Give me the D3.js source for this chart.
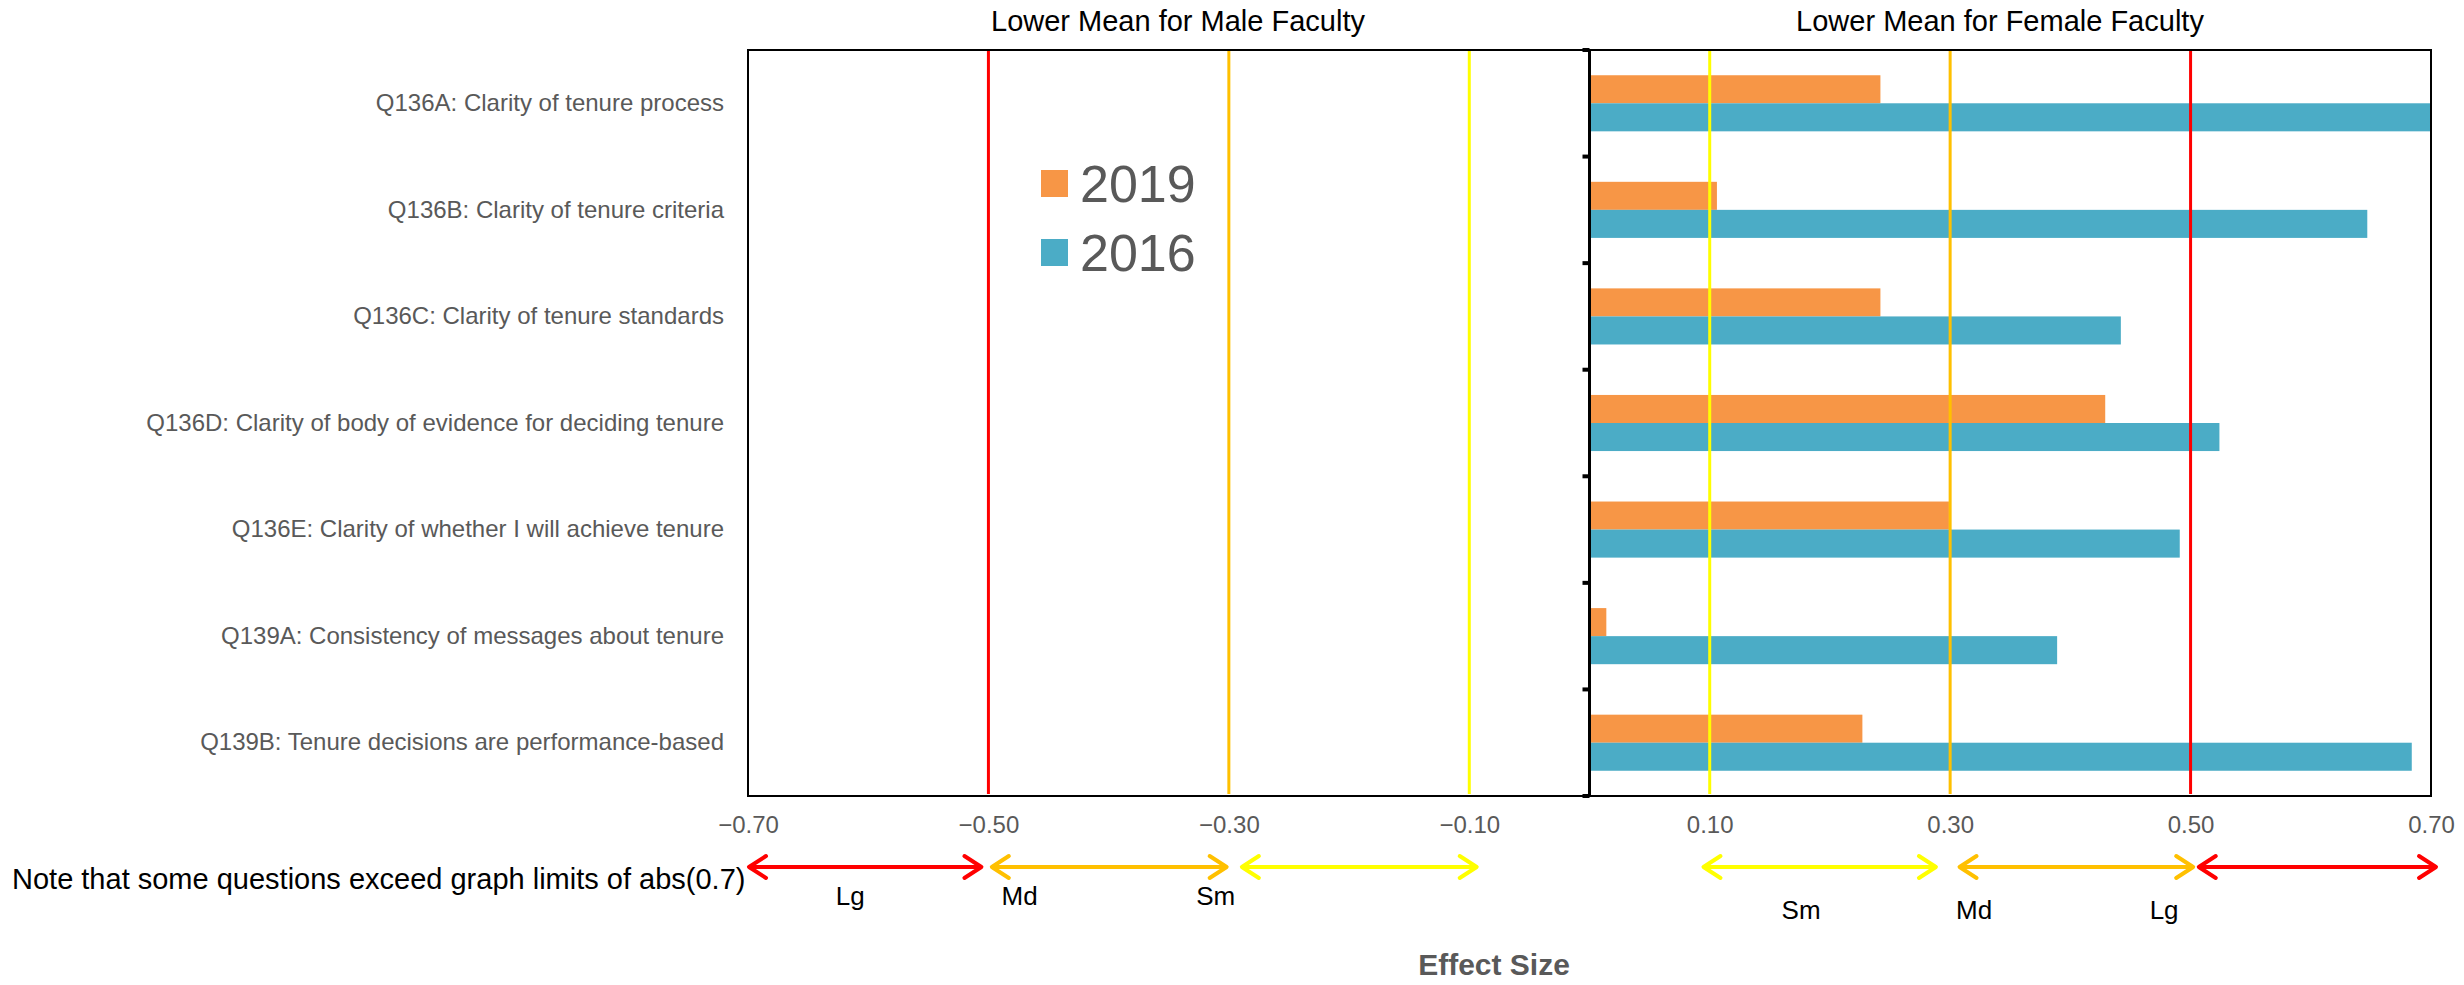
<!DOCTYPE html>
<html>
<head>
<meta charset="utf-8">
<script src="https://cdn.jsdelivr.net/npm/d3@7"></script>
<style>
  html, body { margin: 0; padding: 0; background: #fff; }
  svg { display: block; font-family: "Liberation Sans", Arial, sans-serif; }
</style>
</head>
<body>
<svg id="chart" width="2464" height="985"></svg>
<script>
// Survey items (top to bottom)
const categories = [
  "Q136A: Clarity of tenure process",
  "Q136B: Clarity of tenure criteria",
  "Q136C: Clarity of tenure standards",
  "Q136D: Clarity of body of evidence for deciding tenure",
  "Q136E: Clarity of whether I will achieve tenure",
  "Q139A: Consistency of messages about tenure",
  "Q139B: Tenure decisions are performance-based"
];
// Effect sizes per survey year
const values2019 = [0.242, 0.106, 0.242, 0.429, 0.299, 0.014, 0.227];
const values2016 = [0.73, 0.647, 0.442, 0.524, 0.491, 0.389, 0.684];
const seriesNames = ["2019", "2016"];
const seriesColors = ["#F79646", "#4BACC6"];

// Axis ticks and effect-size thresholds
const xTicks = [-0.7, -0.5, -0.3, -0.1, 0.1, 0.3, 0.5, 0.7];
const thresholds = [-0.5, -0.3, -0.1, 0.1, 0.3, 0.5];
const thresholdColors = ["#FF0000", "#FFC000", "#FFFF00", "#FFFF00", "#FFC000", "#FF0000"];

// Size bands shown under the axis (spans in effect-size units)
const bandArrows = [
  { from: -0.700, to: -0.505, color: "#FF0000" },
  { from: -0.498, to: -0.301, color: "#FFC000" },
  { from: -0.290, to: -0.093, color: "#FFFF00" },
  { from: 0.094, to: 0.289, color: "#FFFF00" },
  { from: 0.307, to: 0.503, color: "#FFC000" },
  { from: 0.506, to: 0.705, color: "#FF0000" }
];
const bandLabelsLeft = [
  { text: "Lg", at: -0.615 },
  { text: "Md", at: -0.474 },
  { text: "Sm", at: -0.311 }
];
const bandLabelsRight = [
  { text: "Sm", at: 0.176 },
  { text: "Md", at: 0.320 },
  { text: "Lg", at: 0.478 }
];

const svg = d3.select("#chart");
const margin = { left: 748, right: 33, top: 50, bottom: 189 };
const W = 2464, H = 985;
const plotL = margin.left, plotR = W - margin.right;
const plotT = margin.top, plotB = H - margin.bottom;

const x = d3.scaleLinear().domain([-0.7, 0.7]).range([plotL, plotR]);
const y = d3.scaleBand().domain(categories).range([plotT, plotB]).padding(0);
const ySub = d3.scaleBand().domain(seriesNames).range([0, y.bandwidth()])
  .paddingInner(0).paddingOuter(0.9);

const data = categories.map((c, i) => ({ cat: c, "2019": values2019[i], "2016": values2016[i] }));

svg.append("defs").append("clipPath").attr("id", "plotClip")
  .append("rect").attr("x", plotL).attr("y", plotT)
  .attr("width", plotR - plotL).attr("height", plotB - plotT);

// Bars
const barLayer = svg.append("g").attr("clip-path", "url(#plotClip)");
seriesNames.forEach((s, si) => {
  barLayer.selectAll(".bar-" + s).data(data).enter().append("rect")
    .attr("x", d => x(Math.min(0, d[s])))
    .attr("y", d => y(d.cat) + ySub(s))
    .attr("width", d => Math.abs(x(d[s]) - x(0)))
    .attr("height", ySub.bandwidth())
    .attr("fill", seriesColors[si]);
});

// Threshold lines
svg.append("g").selectAll("line").data(thresholds).enter().append("line")
  .attr("x1", d => x(d)).attr("x2", d => x(d))
  .attr("y1", plotT).attr("y2", plotB - 2)
  .attr("stroke", (d, i) => thresholdColors[i])
  .attr("stroke-width", 3);

// Plot frame
svg.append("rect").attr("x", plotL).attr("y", plotT)
  .attr("width", plotR - plotL).attr("height", plotB - plotT)
  .attr("fill", "none").attr("stroke", "#000").attr("stroke-width", 2);

// Zero axis with category-boundary ticks
svg.append("line").attr("x1", x(0)).attr("x2", x(0))
  .attr("y1", plotT).attr("y2", plotB)
  .attr("stroke", "#000").attr("stroke-width", 3);
const boundaries = categories.map(c => y(c)).concat([plotB]);
svg.append("g").selectAll("line").data(boundaries).enter().append("line")
  .attr("x1", x(0) - 7).attr("x2", x(0))
  .attr("y1", d => d).attr("y2", d => d)
  .attr("stroke", "#000").attr("stroke-width", 4);

// Category labels
const yAxis = d3.axisLeft(y).tickSize(0).tickPadding(24);
const yg = svg.append("g").attr("transform", `translate(${plotL},0)`).call(yAxis);
yg.select(".domain").remove();
yg.selectAll("text").attr("font-size", 24).attr("fill", "#595959")
  .style("font-family", "'Liberation Sans', Arial, sans-serif");

// X tick labels
const xAxis = d3.axisBottom(x).tickValues(xTicks).tickSize(0).tickPadding(20)
  .tickFormat(d3.format(".2f"));
const xg = svg.append("g").attr("transform", `translate(0,${plotB})`).call(xAxis);
xg.select(".domain").remove();
xg.selectAll("text").attr("font-size", 24).attr("fill", "#595959")
  .style("font-family", "'Liberation Sans', Arial, sans-serif");

// Panel titles
svg.append("text").attr("x", 1178).attr("y", 31).attr("text-anchor", "middle")
  .attr("font-size", 29).attr("fill", "#000").text("Lower Mean for Male Faculty");
svg.append("text").attr("x", 2000).attr("y", 31).attr("text-anchor", "middle")
  .attr("font-size", 29).attr("fill", "#000").text("Lower Mean for Female Faculty");

// Legend
const legend = svg.append("g").attr("transform", "translate(1041,170)");
seriesNames.forEach((s, i) => {
  const g = legend.append("g").attr("transform", `translate(0,${i * 69})`);
  g.append("rect").attr("width", 27).attr("height", 27).attr("fill", seriesColors[i]);
  g.append("text").attr("x", 39).attr("y", 32).attr("font-size", 52)
    .attr("fill", "#595959").text(s);
});

// Size band arrows
const arrowY = 867;
const arrows = svg.append("g");
bandArrows.forEach(a => {
  const x1 = x(a.from), x2 = x(a.to);
  const head = 18, half = 11;
  arrows.append("line").attr("x1", x1 + 2).attr("x2", x2 - 2)
    .attr("y1", arrowY).attr("y2", arrowY)
    .attr("stroke", a.color).attr("stroke-width", 4);
  arrows.append("path")
    .attr("d", `M${x1 + head},${arrowY - half}L${x1 + 1},${arrowY}L${x1 + head},${arrowY + half}`)
    .attr("fill", "none").attr("stroke", a.color).attr("stroke-width", 4)
    .attr("stroke-linecap", "round").attr("stroke-linejoin", "round");
  arrows.append("path")
    .attr("d", `M${x2 - head},${arrowY - half}L${x2 - 1},${arrowY}L${x2 - head},${arrowY + half}`)
    .attr("fill", "none").attr("stroke", a.color).attr("stroke-width", 4)
    .attr("stroke-linecap", "round").attr("stroke-linejoin", "round");
});

svg.append("g").selectAll("text").data(bandLabelsLeft).enter().append("text")
  .attr("x", d => x(d.at)).attr("y", 905).attr("text-anchor", "middle")
  .attr("font-size", 26).attr("fill", "#000").text(d => d.text);
svg.append("g").selectAll("text").data(bandLabelsRight).enter().append("text")
  .attr("x", d => x(d.at)).attr("y", 919).attr("text-anchor", "middle")
  .attr("font-size", 26).attr("fill", "#000").text(d => d.text);

// Note and axis title
svg.append("text").attr("x", 12).attr("y", 889).attr("font-size", 29)
  .attr("fill", "#000").text("Note that some questions exceed graph limits of abs(0.7)");
svg.append("text").attr("x", 1494).attr("y", 975).attr("text-anchor", "middle")
  .attr("font-size", 30).attr("font-weight", "bold").attr("fill", "#595959")
  .text("Effect Size");
</script>
</body>
</html>
